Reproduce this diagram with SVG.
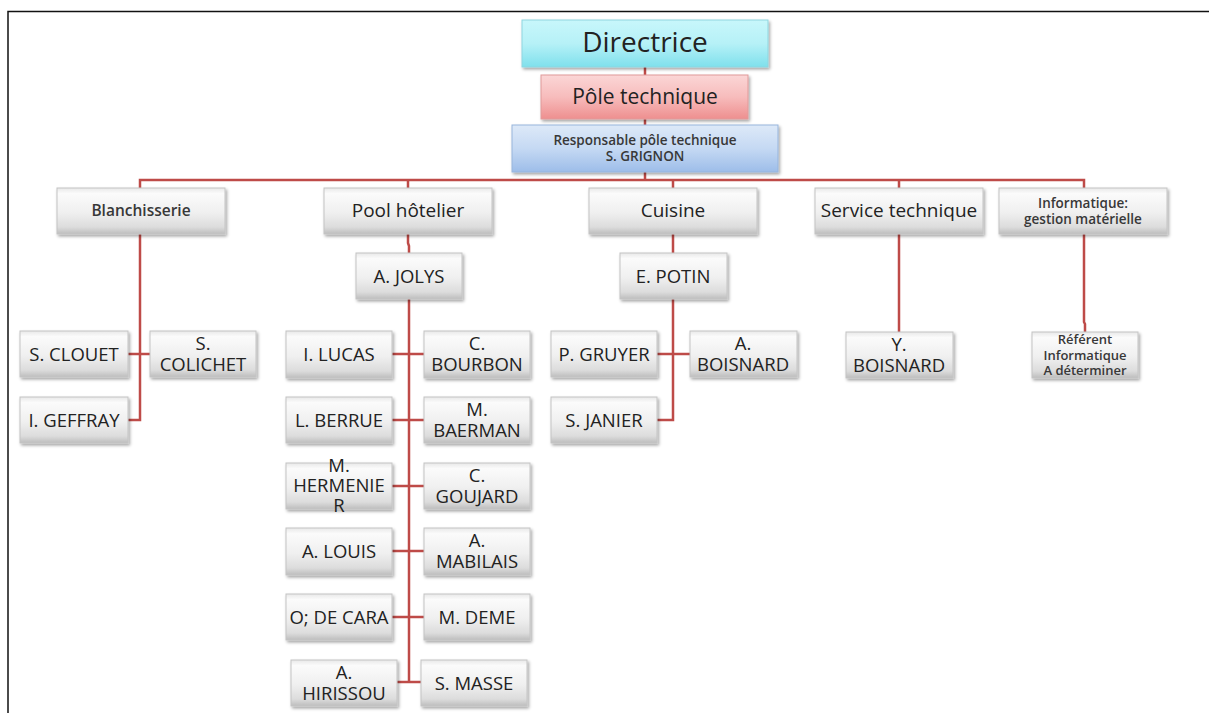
<svg xmlns="http://www.w3.org/2000/svg" width="1209" height="713" viewBox="0 0 1209 713">
  <defs>
    <linearGradient id="gGray" x1="0" y1="0" x2="0" y2="1">
      <stop offset="0" stop-color="#e8e8e8"/>
      <stop offset="0.12" stop-color="#fbfbfb"/>
      <stop offset="0.55" stop-color="#efefef"/>
      <stop offset="0.85" stop-color="#dcdcdc"/>
      <stop offset="1" stop-color="#bdbdbd"/>
    </linearGradient>
    <linearGradient id="gCyan" x1="0" y1="0" x2="0" y2="1">
      <stop offset="0" stop-color="#c8f7fb"/>
      <stop offset="0.5" stop-color="#b6f1f7"/>
      <stop offset="1" stop-color="#7fe0ec"/>
    </linearGradient>
    <linearGradient id="gPink" x1="0" y1="0" x2="0" y2="1">
      <stop offset="0" stop-color="#fbd6d6"/>
      <stop offset="0.5" stop-color="#f7bcbc"/>
      <stop offset="1" stop-color="#ee8f8f"/>
    </linearGradient>
    <linearGradient id="gBlue" x1="0" y1="0" x2="0" y2="1">
      <stop offset="0" stop-color="#dde9f8"/>
      <stop offset="0.5" stop-color="#c5d9f3"/>
      <stop offset="1" stop-color="#9dbde9"/>
    </linearGradient>
    <filter id="shadow" x="-10%" y="-10%" width="125%" height="135%">
      <feDropShadow dx="1.5" dy="2" stdDeviation="1.5" flood-color="#000" flood-opacity="0.35"/>
    </filter>
  </defs>
  <style>
    .box { fill: url(#gGray); stroke: #c4c4c4; stroke-width: 1; filter: url(#shadow); }
    .cyan { fill: url(#gCyan); stroke: #8fd6df; stroke-width: 1; filter: url(#shadow); }
    .pink { fill: url(#gPink); stroke: #e09a9a; stroke-width: 1; filter: url(#shadow); }
    .blue { fill: url(#gBlue); stroke: #97b5dc; stroke-width: 1; filter: url(#shadow); }
    text { font-family: "Open Sans", "Noto Sans", "Liberation Sans", sans-serif; fill: #222; text-anchor: middle; }
    .n { font-size: 18.5px; }
    .d { font-size: 19px; }
    .s { font-size: 15.5px; font-weight: 600; fill: #383838; }
    .xs { font-size: 13.5px; font-weight: 600; fill: #383838; }
    .ref { font-size: 13px; font-weight: 600; fill: #383838; }
    .link { fill: none; stroke: #be4b48; stroke-width: 2.5; }
    .frame { fill: none; stroke: #111; stroke-width: 1.5; }
  </style>

  <rect width="1209" height="713" fill="#ffffff"/>
  <!-- page frame -->
  <path class="frame" d="M8 713 V11.5 H1209"/>

  <!-- connectors -->
  <g id="connectors">
    <path class="link" d="M645 67 V75 M645 119 V125 M645 172 V180"/>
    <path class="link" d="M140 188 V180 H1084 V188 M408 180 V188 M673 180 V188 M899 180 V188"/>
    <!-- Blanchisserie -->
    <path class="link" d="M140 234 V420 H128 M128 354 H150"/>
    <!-- Pool hôtelier -->
    <path class="link" d="M408 234 V243 L409 246 V253 M409 299 V682 H397 M392 354 H424 M392 420 H424 M392 486 H424 M392 551 H424 M392 617 H424 M409 682 H421"/>
    <!-- Cuisine -->
    <path class="link" d="M673 234 V253 M673 299 V420 H657 M657 354 H690"/>
    <!-- Service technique -->
    <path class="link" d="M899 234 V332"/>
    <!-- Informatique -->
    <path class="link" d="M1084 234 V322 L1085 324 V332"/>
  </g>

  <!-- top of hierarchy -->
  <g id="directrice">
    <rect class="cyan" x="522" y="20" width="246" height="47"/>
    <text x="645" y="52" style="font-size:28px">Directrice</text>
  </g>
  <g id="pole-technique">
    <rect class="pink" x="541" y="75" width="207" height="44"/>
    <text x="645" y="104" style="font-size:21px">Pôle technique</text>
  </g>
  <g id="responsable">
    <rect class="blue" x="512" y="125" width="266" height="47"/>
    <text class="xs" x="645" y="145">Responsable pôle technique<tspan x="645" dy="16">S. GRIGNON</tspan></text>
  </g>

  <!-- departments -->
  <g id="blanchisserie">
    <rect class="box" x="57" y="188" width="168" height="46"/>
    <text class="s" x="141" y="216">Blanchisserie</text>
  </g>
  <g id="pool-hotelier">
    <rect class="box" x="324" y="188" width="168" height="46"/>
    <text class="d" x="408" y="217">Pool hôtelier</text>
  </g>
  <g id="cuisine">
    <rect class="box" x="589" y="188" width="168" height="46"/>
    <text class="d" x="673" y="217">Cuisine</text>
  </g>
  <g id="service-technique">
    <rect class="box" x="815" y="188" width="168" height="46"/>
    <text class="d" x="899" y="217">Service technique</text>
  </g>
  <g id="informatique">
    <rect class="box" x="999" y="188" width="168" height="46"/>
    <text class="xs" x="1083" y="208">Informatique:<tspan x="1083" dy="16">gestion matérielle</tspan></text>
  </g>

  <!-- Blanchisserie staff -->
  <g id="s-clouet">
    <rect class="box" x="20" y="331" width="108" height="46"/>
    <text class="n" x="74" y="361">S. CLOUET</text>
  </g>
  <g id="s-colichet">
    <rect class="box" x="150" y="331" width="106" height="46"/>
    <text class="n" x="203" y="350">S.<tspan x="203" dy="21">COLICHET</tspan></text>
  </g>
  <g id="i-geffray">
    <rect class="box" x="20" y="397" width="108" height="46"/>
    <text class="n" x="74" y="427">I. GEFFRAY</text>
  </g>

  <!-- Pool hôtelier staff -->
  <g id="a-jolys">
    <rect class="box" x="356" y="253" width="106" height="46"/>
    <text class="n" x="409" y="283">A. JOLYS</text>
  </g>
  <g id="i-lucas">
    <rect class="box" x="286" y="331" width="106" height="47"/>
    <text class="n" x="339" y="361">I. LUCAS</text>
  </g>
  <g id="c-bourbon">
    <rect class="box" x="424" y="331" width="106" height="47"/>
    <text class="n" x="477" y="350">C.<tspan x="477" dy="21">BOURBON</tspan></text>
  </g>
  <g id="l-berrue">
    <rect class="box" x="286" y="397" width="106" height="46"/>
    <text class="n" x="339" y="427">L. BERRUE</text>
  </g>
  <g id="m-baerman">
    <rect class="box" x="424" y="397" width="106" height="46"/>
    <text class="n" x="477" y="416">M.<tspan x="477" dy="21">BAERMAN</tspan></text>
  </g>
  <g id="m-hermenier">
    <rect class="box" x="286" y="463" width="106" height="46"/>
    <text class="n" x="339" y="472">M.<tspan x="339" dy="20">HERMENIE</tspan><tspan x="339" dy="20">R</tspan></text>
  </g>
  <g id="c-goujard">
    <rect class="box" x="424" y="463" width="106" height="46"/>
    <text class="n" x="477" y="482">C.<tspan x="477" dy="21">GOUJARD</tspan></text>
  </g>
  <g id="a-louis">
    <rect class="box" x="286" y="528" width="106" height="47"/>
    <text class="n" x="339" y="558">A. LOUIS</text>
  </g>
  <g id="a-mabilais">
    <rect class="box" x="424" y="528" width="106" height="47"/>
    <text class="n" x="477" y="547">A.<tspan x="477" dy="21">MABILAIS</tspan></text>
  </g>
  <g id="o-de-cara">
    <rect class="box" x="286" y="594" width="106" height="46"/>
    <text class="n" x="339" y="624">O; DE CARA</text>
  </g>
  <g id="m-deme">
    <rect class="box" x="424" y="594" width="106" height="46"/>
    <text class="n" x="477" y="624">M. DEME</text>
  </g>
  <g id="a-hirissou">
    <rect class="box" x="291" y="660" width="106" height="46"/>
    <text class="n" x="344" y="679">A.<tspan x="344" dy="21">HIRISSOU</tspan></text>
  </g>
  <g id="s-masse">
    <rect class="box" x="421" y="660" width="106" height="46"/>
    <text class="n" x="474" y="690">S. MASSE</text>
  </g>

  <!-- Cuisine staff -->
  <g id="e-potin">
    <rect class="box" x="620" y="253" width="107" height="46"/>
    <text class="n" x="673" y="283">E. POTIN</text>
  </g>
  <g id="p-gruyer">
    <rect class="box" x="551" y="331" width="106" height="46"/>
    <text class="n" x="604" y="361">P. GRUYER</text>
  </g>
  <g id="a-boisnard">
    <rect class="box" x="690" y="331" width="107" height="46"/>
    <text class="n" x="743" y="350">A.<tspan x="743" dy="21">BOISNARD</tspan></text>
  </g>
  <g id="s-janier">
    <rect class="box" x="551" y="397" width="106" height="46"/>
    <text class="n" x="604" y="427">S. JANIER</text>
  </g>

  <!-- Service technique staff -->
  <g id="y-boisnard">
    <rect class="box" x="846" y="332" width="107" height="46"/>
    <text class="n" x="899" y="351">Y.<tspan x="899" dy="21">BOISNARD</tspan></text>
  </g>

  <!-- Informatique staff -->
  <g id="referent-informatique">
    <rect class="box" x="1032" y="332" width="106" height="46"/>
    <text class="ref" x="1085" y="344">Référent<tspan x="1085" dy="16">Informatique</tspan><tspan x="1085" dy="15">A déterminer</tspan></text>
  </g>
</svg>
